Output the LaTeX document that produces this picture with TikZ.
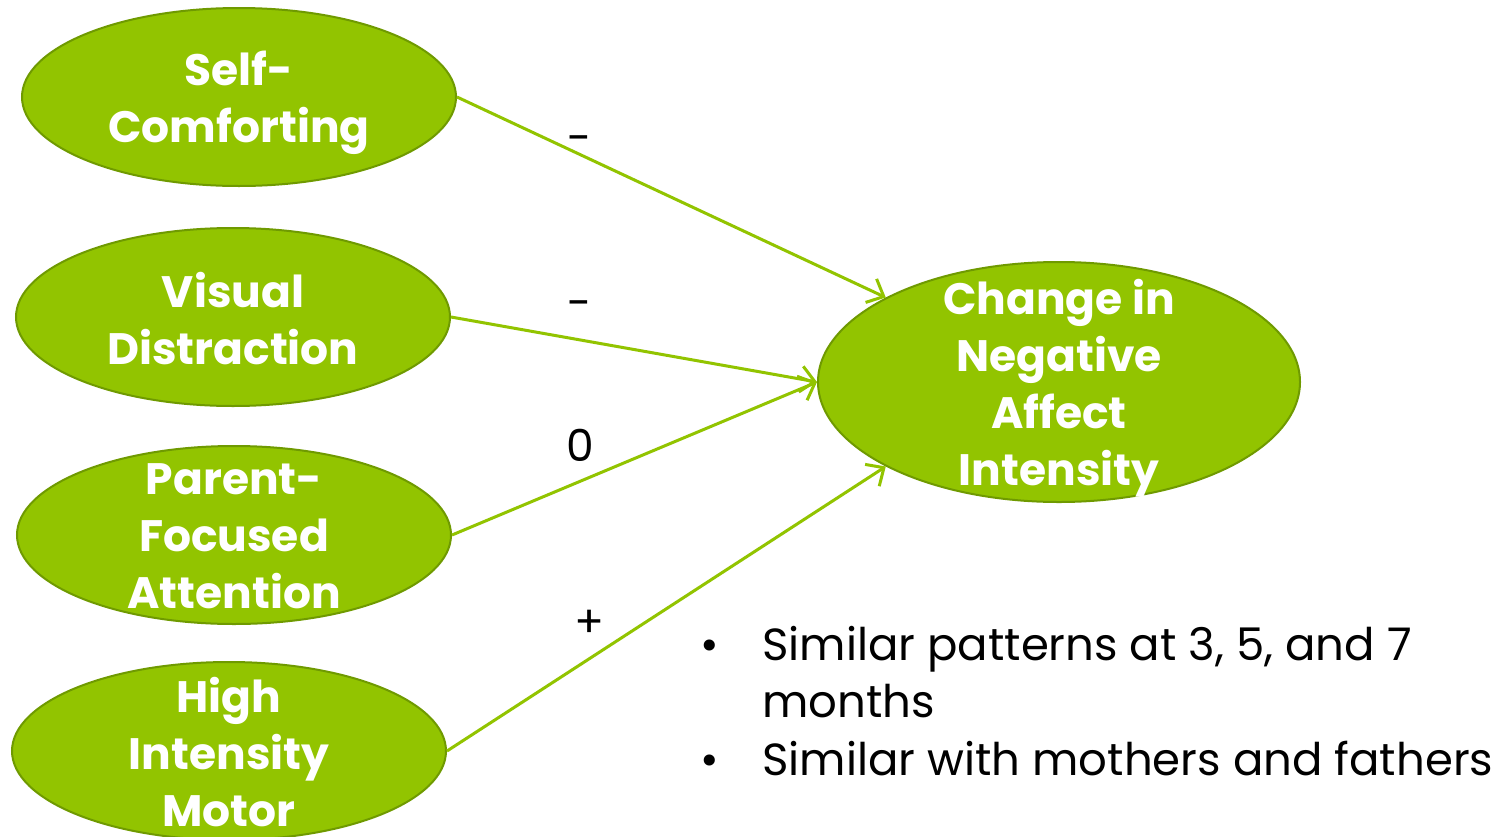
\documentclass[tikz,border=0pt]{standalone}
\usepackage{fontspec}
\setmainfont{Poppins}
\usetikzlibrary{arrows.meta,shapes.geometric}
\definecolor{gfill}{HTML}{92C400}
\definecolor{gline}{HTML}{6F9A00}
\begin{document}
\begin{tikzpicture}[x=1pt,y=-1pt,
  oval/.style={ellipse, draw=gline, line width=2pt, fill=gfill, minimum width=434pt, minimum height=178pt, inner sep=0pt},
  ovaltext/.style={text=white, font=\fontsize{44}{57}\selectfont\bfseries, align=center, inner sep=0pt},
  conn/.style={draw=gfill, line width=3pt, -{Straight Barb[length=14pt,width=26pt,line width=3pt]}},
  sign/.style={font=\fontsize{44}{50}\selectfont, inner sep=0pt},
  bul/.style={font=\fontsize{45}{57}\selectfont, inner sep=0pt, anchor=base west}
]
\useasboundingbox (0,0) rectangle (1508,836);
\clip (0,0) rectangle (1508,836);
\fill[white] (0,0) rectangle (1508,836);

\node[oval] (sc) at (239,97) {};
\node[oval] (vd) at (233,317) {};
\node[oval] (pf) at (234,535) {};
\node[oval] (hm) at (229,751) {};
\node[oval, minimum width=482pt, minimum height=240pt] (ch) at (1059,382) {};

\node[ovaltext] at ([yshift=-6pt]sc.center) {Self-\\Comforting};
\node[ovaltext] at ([yshift=-2pt]vd.center) {Visual\\Distraction};
\node[ovaltext] at ([yshift=-1pt]pf.center) {Parent-\\Focused\\Attention};
\node[ovaltext] at ([yshift=-1pt]hm.center) {High\\Intensity\\Motor};
\node[ovaltext] at ([yshift=-6pt]ch.center) {Change in\\Negative\\Affect\\Intensity};

\draw[conn] (sc.east) -- (ch.154);
\draw[conn] (vd.east) -- (ch.west);
\draw[conn] (pf.east) -- (ch.west);
\draw[conn] (hm.east) -- (ch.206);

\node[sign] (s1) at (580,145) {-};
\node[sign] (s2) at (580,310) {-};
\node[sign] (s3) at (580,445) {0};
\node[sign] (s4) at (590,624) {+};

\node[bul] (b1) at (700,660) {•};
\node[bul] (t1) at (762,660) {Similar patterns at 3, 5, and 7};
\node[bul] (t1b) at (762,717) {months};
\node[bul] (b2) at (700,775) {•};
\node[bul] (t2) at (762,775) {Similar with mothers and fathers};
\end{tikzpicture}
\end{document}
